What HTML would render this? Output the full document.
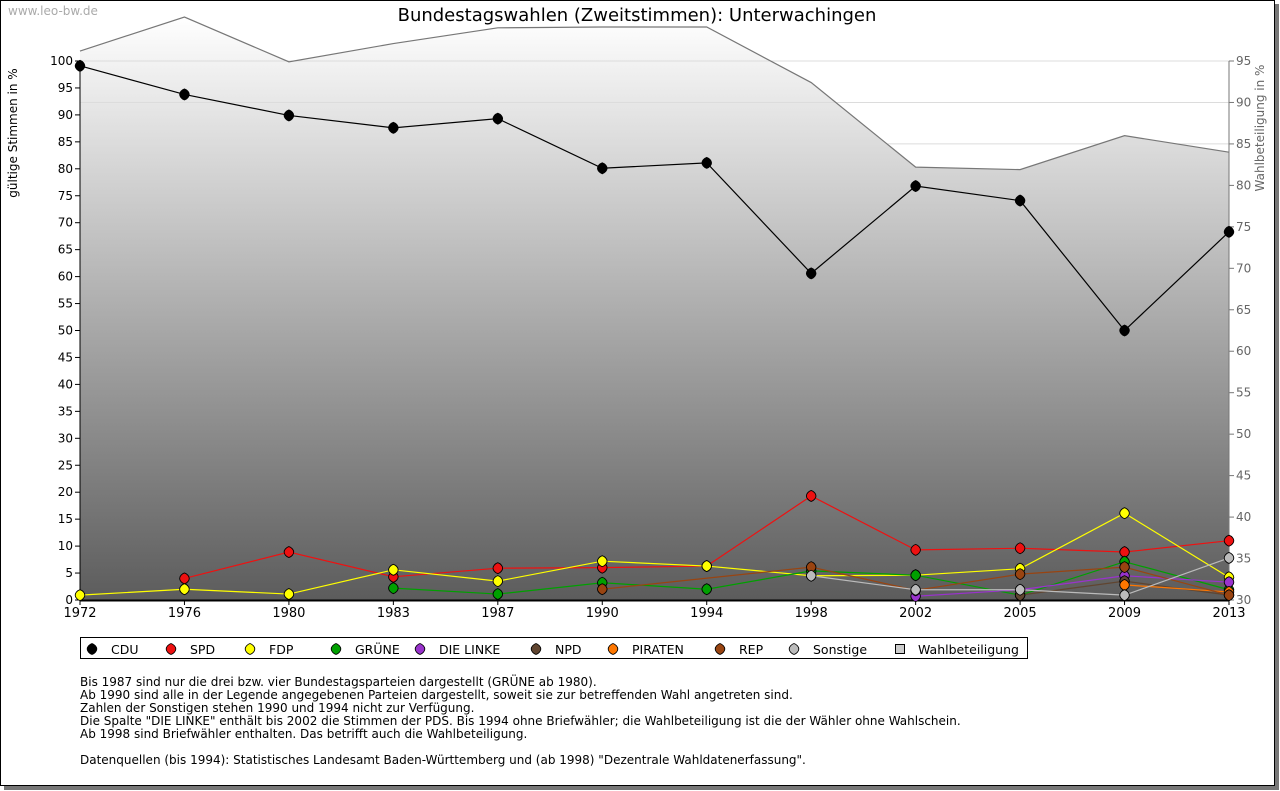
<!DOCTYPE html>
<html><head><meta charset="utf-8"><style>
body{margin:0;background:#fff;width:1280px;height:791px;overflow:hidden;font-family:"DejaVu Sans","Liberation Sans",sans-serif;}
svg{position:absolute;left:0;top:0}
</style></head><body>
<svg id="chart" width="1280" height="791">
<defs>
<linearGradient id="bg" x1="0" y1="0" x2="0" y2="1" gradientUnits="objectBoundingBox">
<stop offset="0" stop-color="#ffffff"/><stop offset="1" stop-color="#5c5c5c"/></linearGradient>
</defs>
<rect x="4" y="4" width="1275" height="786" fill="#777"/>
<rect x="0.5" y="0.5" width="1274" height="785" fill="#fff" stroke="#000"/>
<text x="8" y="15" font-size="12" fill="#aaa">www.leo-bw.de</text>
<text x="637" y="21" font-size="18" text-anchor="middle" fill="#000">Bundestagswahlen (Zweitstimmen): Unterwachingen</text>
<text transform="translate(17,133) rotate(-90)" font-size="12" text-anchor="middle">gültige Stimmen in %</text>
<text transform="translate(1264,128) rotate(-90)" font-size="12" text-anchor="middle" fill="#666">Wahlbeteiligung in %</text>
<g id="plot"></g>
<g id="legend"></g>
<g font-size="12" fill="#000">
<text x="80" y="686">Bis 1987 sind nur die drei bzw. vier Bundestagsparteien dargestellt (GRÜNE ab 1980).</text>
<text x="80" y="699">Ab 1990 sind alle in der Legende angegebenen Parteien dargestellt, soweit sie zur betreffenden Wahl angetreten sind.</text>
<text x="80" y="712">Zahlen der Sonstigen stehen 1990 und 1994 nicht zur Verfügung.</text>
<text x="80" y="725">Die Spalte "DIE LINKE" enthält bis 2002 die Stimmen der PDS. Bis 1994 ohne Briefwähler; die Wahlbeteiligung ist die der Wähler ohne Wahlschein.</text>
<text x="80" y="738">Ab 1998 sind Briefwähler enthalten. Das betrifft auch die Wahlbeteiligung.</text>
<text x="80" y="764">Datenquellen (bis 1994): Statistisches Landesamt Baden-Württemberg und (ab 1998) "Dezentrale Wahldatenerfassung".</text>
</g>
</svg>
<script>
const years=["1972","1976","1980","1983","1987","1990","1994","1998","2002","2005","2009","2013"];
const turnout=[96.2,100.3,94.9,97.1,99.0,99.1,99.1,92.4,82.2,81.9,86.0,84.0];
const cdu=[99.1,93.8,89.9,87.6,89.3,80.1,81.1,60.6,76.8,74.1,50.0,68.3];
const spd=[null,4.0,8.9,4.3,5.9,6.0,6.3,19.3,9.3,9.6,8.9,11.0];
const fdp=[0.9,2.0,1.1,5.6,3.5,7.2,6.3,4.5,4.6,5.8,16.1,4.2];
const gruene=[null,null,null,2.2,1.1,3.2,2.0,5.4,4.6,0.9,7.1,1.9];
const linke=[null,null,null,null,null,null,null,null,0.7,1.9,4.5,3.3];
const npd=[null,null,null,null,null,null,null,null,null,0.9,3.5,0.9];
const piraten=[null,null,null,null,null,null,null,null,null,null,2.8,1.5];
const rep=[null,null,null,null,null,2.0,null,6.1,1.8,4.8,6.1,0.9];
const sonstige=[null,null,null,null,null,null,null,4.5,1.9,1.9,0.9,7.8];
const leftTicks=[0,5,10,15,20,25,30,35,40,45,50,55,60,65,70,75,80,85,90,95,100];
const rightTicks=[30,35,40,45,50,55,60,65,70,75,80,85,90,95];
const NS="http://www.w3.org/2000/svg";
const X0=80,X1=1229,Y0=600,Y1=61;
const xs=i=>X0+(X1-X0)*i/(years.length-1);
const yl=v=>Y0-(Y0-Y1)*v/100;
const yr=v=>Y0-(Y0-Y1)*(v-30)/65;
const plot=document.getElementById('plot');
function mk(tag,attrs,parent){const e=document.createElementNS(NS,tag);for(const k in attrs)e.setAttribute(k,attrs[k]);(parent||plot).appendChild(e);return e;}
let pts=turnout.map((v,i)=>xs(i)+","+yr(v)).join(" ");
let area=mk('polygon',{points:X0+","+Y0+" "+pts+" "+X1+","+Y0,fill:"url(#bg)"});


rightTicks.forEach(t=>{if(t>=85){const g=mk('line',{x1:X0,x2:X1,y1:yr(t),y2:yr(t),stroke:"#dcdcdc","stroke-width":1});

}});
let tl=mk('polyline',{points:pts,fill:"none",stroke:"#777","stroke-width":1.2});


mk('line',{x1:X0,x2:X0,y1:Y1,y2:Y0,stroke:"#000"});
mk('line',{x1:X1,x2:X1,y1:Y1,y2:Y0,stroke:"#777"});
mk('line',{x1:X0,x2:X1,y1:Y0+0.5,y2:Y0+0.5,stroke:"#000","stroke-width":2});
leftTicks.forEach(t=>{mk('line',{x1:X0-5,x2:X0,y1:yl(t),y2:yl(t),stroke:"#000"});
const tx=mk('text',{x:X0-7,y:yl(t)+4,"font-size":12,"text-anchor":"end"});tx.textContent=t;

});
rightTicks.forEach(t=>{mk('line',{x1:X1,x2:X1+5,y1:yr(t),y2:yr(t),stroke:"#777"});
const tx=mk('text',{x:X1+7,y:yr(t)+4,"font-size":12,fill:"#666"});tx.textContent=t;

});
years.forEach((y,i)=>{mk('line',{x1:xs(i),x2:xs(i),y1:Y0,y2:Y0+5,stroke:"#000"});
const tx=mk('text',{x:xs(i),y:Y0+17,"font-size":13,"text-anchor":"middle"});tx.textContent=y;

});
const series=[["cdu",cdu,"#000000","CDU"],["spd",spd,"#ee1111","SPD"],["fdp",fdp,"#ffff00","FDP"],["gruene",gruene,"#00a000","GRÜNE"],["linke",linke,"#9933cc","DIE LINKE"],["npd",npd,"#604530","NPD"],["piraten",piraten,"#ff7700","PIRATEN"],["rep",rep,"#994411","REP"],["sonstige",sonstige,"#bbbbbb","Sonstige"]];
function marker(x,y,col,parent){
 const g=mk('path',{d:`M${x},${y-5.5} C${x+3},${y-4.5} ${x+4.8},${y-2} ${x+4.8},${y} C${x+4.8},${y+2} ${x+3},${y+4.5} ${x},${y+5.5} C${x-3},${y+4.5} ${x-4.8},${y+2} ${x-4.8},${y} C${x-4.8},${y-2} ${x-3},${y-4.5} ${x},${y-5.5} Z`,fill:col,stroke:"#000","stroke-width":0.9},parent);
 return g;
}
series.forEach(([id,data,col])=>{
 const all=data.map((v,i)=>v===null?null:xs(i)+","+yl(v)).filter(p=>p);
 const l=mk('polyline',{points:all.join(" "),fill:"none",stroke:col,"stroke-width":1.2});
 
 
 data.forEach((v,i)=>{if(v===null)return;
  const c=marker(xs(i),yl(v),col);
  
  
 });
});
const lg=document.getElementById('legend');
const box=mk('rect',{x:80.5,y:637.5,width:947,height:21,fill:"#fff",stroke:"#000"},lg);


const lx=[92,171,250,336,420,536,613,720,794];
series.forEach(([id,d,col,label],k)=>{
 const x=lx[k],y=649;
 const m=marker(x,y,col,lg);
 
 
 const t=mk('text',{x:x+19,y:654,"font-size":12.5},lg);t.textContent=label;
 
 
});
const sq=mk('rect',{x:895.5,y:644.5,width:9,height:9,fill:"#ccc",stroke:"#000"},lg);


const tt=mk('text',{x:918,y:654,"font-size":12.5},lg);tt.textContent="Wahlbeteiligung";


</script>
</body></html>
